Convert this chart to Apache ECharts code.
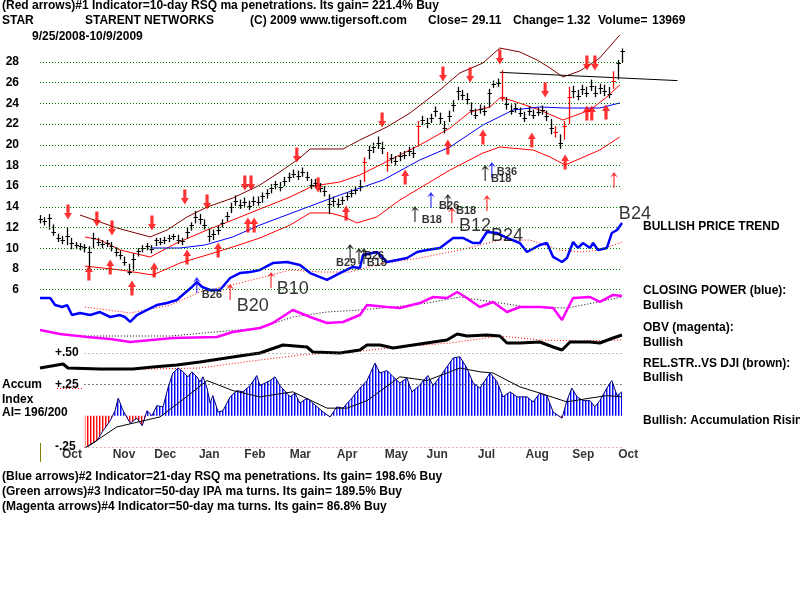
<!DOCTYPE html>
<html><head><meta charset="utf-8">
<script src="https://cdn.jsdelivr.net/npm/echarts@6/dist/echarts.min.js"></script>
<style>html,body{margin:0;padding:0;background:#fff}#c{width:800px;height:600px}</style>
</head><body><div id="c"></div>
<script>
// ---------- DATA (bar index k = every 2 trading days, 9/25/2008 .. 10/9/2009) ----------
const closes = [12.8,12.6,12.9,11.6,11.0,10.8,11.2,10.5,10.3,10.2, 10.1,9.6,11.0,10.6,10.4,10.5,10.2,9.6,9.3,8.7,
 7.7,9.0,9.7,10.0,10.2,9.9,10.8,10.6,10.8,11.0, 11.2,10.8,10.7,11.6,12.2,13.0,12.8,12.2,11.2,11.4,
 11.8,12.4,13.1,14.0,14.6,14.2,14.5,14.1,14.6,14.5, 15.0,15.3,15.8,16.2,15.9,16.5,16.9,17.2,17.0,17.4,
 16.9,16.1,16.3,15.8,15.5,14.3,14.6,14.3,14.7,15.0, 15.3,15.6,16.0,18.3,19.5,19.8,20.2,19.7,18.0,18.7,
 18.4,18.9,19.0,19.4,19.2,21.8,22.4,22.1,22.6,23.3, 22.6,21.6,22.8,23.8,25.2,24.8,24.4,23.4,22.9,23.5,
 23.3,25.0,25.9,26.0,24.6,23.9,23.3,23.6,23.1,22.6, 23.3,22.9,23.2,23.4,22.8,21.6,21.2,20.2,21.8,24.6,
 25.2,24.7,25.4,25.0,25.7,25.0,25.5,25.2,24.9,26.2, 27.9,29.1];
const highs = [13.2,13.0,13.3,12.3,11.4,11.2,12.0,11.0,10.6,10.5, 10.4,10.2,11.5,11.0,10.8,10.8,10.6,10.1,9.8,9.2,
 8.5,9.5,10.0,10.3,10.5,10.3,11.0,11.0,11.1,11.3, 11.4,11.3,11.0,12.0,12.5,13.6,13.3,12.8,11.9,11.8,
 12.2,12.8,13.5,14.4,15.1,14.7,14.9,14.6,15.0,15.0, 15.4,15.7,16.2,16.5,16.4,16.9,17.3,17.6,17.5,17.8,
 17.4,16.7,16.7,16.3,16.0,15.2,15.0,14.8,15.0,15.4, 15.7,16.0,16.6,18.8,19.9,20.2,20.8,20.3,19.3,19.1,
 18.9,19.3,19.4,19.8,19.8,22.3,22.8,22.6,23.0,23.7, 23.1,22.3,23.3,24.3,25.6,25.3,25.0,24.1,23.5,23.9,
 23.8,25.4,26.2,26.4,27.2,24.6,23.9,24.0,23.6,23.2, 23.7,23.4,23.6,23.8,23.3,22.5,21.8,21.0,22.3,25.6,
 25.7,25.3,25.8,25.6,26.3,25.7,25.9,25.8,25.6,27.1, 28.2,29.3];
const lows = [12.4,12.2,11.8,11.2,10.6,10.4,10.3,9.9,9.9,9.8, 9.6,8.0,10.0,10.2,10.0,10.1,9.7,9.2,8.9,8.3,
 7.4,7.8,9.2,9.6,9.8,9.5,10.2,10.3,10.4,10.6, 10.8,10.4,10.3,10.9,11.7,12.4,12.3,11.8,10.6,10.8,
 11.3,12.0,12.6,13.4,14.1,13.8,14.0,13.7,14.1,14.1, 14.4,14.8,15.3,15.7,15.5,16.0,16.4,16.8,16.6,16.9,
 16.5,15.7,15.8,15.4,15.0,13.3,14.0,13.9,14.2,14.6, 14.9,15.2,15.5,16.4,18.6,19.2,19.6,19.1,17.4,18.2,
 18.0,18.4,18.6,18.9,18.7,19.8,21.9,21.6,22.1,22.7, 22.0,21.1,22.2,23.2,24.3,24.3,23.9,22.9,22.5,23.0,
 22.8,23.6,25.5,25.6,24.2,23.4,22.9,23.1,22.7,22.2, 22.8,22.5,22.8,22.9,22.3,21.0,20.7,19.6,20.5,22.0,
 24.5,24.3,24.8,24.6,25.2,24.6,24.9,24.7,24.5,25.4, 26.3,27.9];
const redBars = [73, 78, 85, 104, 116, 118, 119, 129];
const priceTicks = [6,8,10,12,14,16,18,20,22,24,26,28];

const maroonBand = [[9.0,13.21],[17.3,11.96],[24.8,11.09],[28.6,11.76],[33.1,13.02],[37.6,13.98],[43.4,14.85],[49.5,16.11],[54.0,17.37],[58.5,18.72],[60.8,19.59],[68.2,19.59],[72.0,20.46],[78.1,21.72],[83.3,23.07],[90.0,25.29],[94.5,26.94],[99.7,27.90],[103.5,29.35],[108.0,28.97],[111.9,28.19],[114.8,27.42],[117.7,26.55],[121.5,27.13],[126.0,28.39],[130.5,30.61]];
const redUpperBand = [[10.1,11.09],[13.5,10.80],[18.0,9.83],[24.8,9.15],[30.8,10.51],[37.6,11.76],[43.4,12.73],[49.5,13.79],[56.3,14.95],[61.4,16.01],[67.5,16.40],[72.0,17.08],[76.5,18.04],[85.5,19.98],[92.3,21.62],[96.8,23.17],[101.3,23.65],[103.5,24.52],[105.8,24.33],[112.5,23.36],[117.7,22.39],[123.8,23.36],[127.6,24.62],[130.5,25.78]];
const redLowerBand = [[10.1,8.28],[18.0,7.90],[25.4,7.41],[31.5,8.57],[37.6,9.35],[43.4,10.12],[49.5,10.99],[56.3,12.24],[60.8,13.41],[65.3,13.41],[68.6,13.02],[71.3,12.44],[75.8,13.02],[81.0,14.66],[88.5,16.59],[92.3,17.56],[99.7,19.20],[103.5,19.78],[111.0,19.49],[114.8,18.82],[118.2,18.04],[126.0,19.49],[130.5,20.75]];
const blueMA = [[24.8,10.02],[31.5,10.02],[37.1,10.31],[43.4,11.09],[49.5,12.24],[58.5,13.70],[67.5,15.14],[77.2,16.59],[85.5,18.53],[92.3,19.78],[99.7,21.91],[106.5,23.36],[112.5,23.65],[118.2,23.55],[126.0,23.55],[130.5,24.04]];
const resistance = [[103.5,27.0],[143.5,26.2]];

const downArrows = [[6.3,13.50],[12.8,12.83],[16.2,11.96],[25.2,12.44],[32.6,14.95],[37.6,14.47],[46.1,16.30],[47.5,16.30],[57.8,19.01],[62.6,16.11],[77.0,22.39],[90.7,26.84],[96.8,26.74],[103.5,28.48],[113.7,25.29],[123.1,27.90],[124.9,27.90]];
const upArrows = [[11.0,7.61],[15.8,8.19],[20.7,6.16],[25.7,7.90],[33.1,9.15],[40.1,9.83],[46.8,12.25],[48.2,12.25],[68.9,13.41],[82.2,16.88],[91.8,19.78],[99.7,20.75],[110.7,20.46],[118.2,18.33],[123.1,23.07],[124.2,23.07],[127.4,23.17]];
const thinArrowsBlack = [[69.8,9.64],[71.8,9.25],[72.9,9.25],[84.4,13.31],[91.8,14.47],[100.2,17.27]];
const thinArrowsBlue = [[35.3,6.45],[88.0,14.66],[101.7,17.56]];
const thinArrowsRed = [[42.8,5.77],[52.0,6.93],[92.7,13.21],[100.6,14.37],[129.2,16.59]];
const smallLabels = [[38.7,5.48,'B26'],[68.9,8.57,'B29'],[75.2,9.25,'B26'],[75.8,8.57,'B18'],[88.2,12.73,'B18'],[92.1,14.08,'B26'],[95.9,13.60,'B18'],[103.8,16.69,'B18'],[105.1,17.37,'B36']];
const bigLabels = [[47.9,4.42,'B20'],[56.9,6.06,'B10'],[97.9,12.15,'B12'],[105.1,11.18,'B24'],[133.9,13.31,'B24']];

const rsq = [[0,24.6],[2.3,24.6],[3.4,19.2],[5.0,17.7],[6.1,19.2],[7.2,11.5],[9.0,13.1],[11.3,11.5],[13.5,13.8],[15.8,10.0],[18.0,11.5],[19.1,10.0],[20.3,6.2],[21.8,11.5],[24.1,15.4],[26.3,19.2],[28.6,20.8],[30.8,23.1],[32.6,28.5],[34.2,33.1],[35.3,36.9],[36.5,33.1],[38.3,30.8],[40.5,30.8],[42.8,40.0],[45.0,43.8],[47.3,44.6],[49.5,46.2],[52.4,51.5],[55.6,52.3],[58.5,50.0],[60.8,43.8],[64.6,38.5],[67.5,43.8],[70.4,48.5],[72.0,47.7],[72.7,57.7],[75.9,60.0],[78.1,52.3],[80.4,53.8],[82.6,55.4],[84.9,60.0],[87.1,61.5],[90.0,63.1],[93.0,70.8],[95.2,70.8],[97.5,66.9],[99.0,66.9],[100.6,75.4],[102.9,74.6],[105.1,70.8],[108.0,66.9],[109.6,60.0],[112.5,65.4],[114.1,66.9],[115.5,56.2],[117.5,52.3],[118.6,55.4],[120.0,67.7],[121.1,63.1],[122.2,66.9],[123.8,63.1],[124.5,66.9],[125.6,61.5],[127.6,63.1],[128.7,74.6],[129.9,76.9],[131.0,82.3]];
const rsqMA = [[10.1,17.7],[20.3,13.1],[29.3,19.2],[36.0,29.2],[45.0,36.2],[49.5,40.0],[56.3,46.2],[63.0,44.6],[69.8,44.6],[76.5,50.8],[85.5,55.4],[94.5,61.5],[103.5,69.2],[110.3,69.2],[117.0,61.5],[121.5,60.0],[126.0,61.5],[131.0,67.7]];
const closingPower = [[0,28.6],[4.5,22.9],[10.6,18.6],[15.8,15.7],[20.3,11.4],[29.9,17.1],[39.8,18.6],[43.4,25.7],[49.5,31.4],[52.4,38.6],[56.9,57.1],[60.8,47.1],[64.6,38.6],[68.2,40.0],[72.0,50.0],[73.6,64.3],[78.1,61.4],[81.0,60.0],[85.5,67.1],[88.5,75.7],[91.6,74.3],[93.9,82.9],[96.1,74.3],[99.0,61.4],[102.0,68.6],[105.1,54.3],[108.0,61.4],[112.5,61.4],[115.5,60.0],[117.5,42.9],[118.6,57.1],[120.0,74.3],[123.8,75.7],[126.0,68.6],[129.0,78.6],[131.0,77.1]];
const closingPowerMA = [[10.1,20.0],[29.3,20.0],[49.5,31.4],[56.9,47.1],[64.6,54.3],[72.0,57.1],[79.5,61.4],[87.1,67.1],[94.5,75.7],[102.0,68.6],[109.6,61.4],[118.6,60.0],[124.5,67.1],[131.0,75.7]];
const obv = [[0,14],[5.2,22],[6.3,14],[13.5,12],[20.9,12],[25.4,16],[30.8,20],[36.0,26],[43.4,36],[49.5,44],[54.7,60],[60.1,56],[61.4,46],[67.5,44],[72.0,50],[73.6,60],[76.5,60],[79.5,54],[84.0,60],[88.5,66],[91.6,70],[93.9,82],[96.1,78],[100.6,80],[103.5,78],[105.1,64],[108.0,64],[112.5,66],[115.5,56],[117.5,50],[119.3,66],[123.8,66],[126.0,64],[129.0,74],[131.0,80]];
const obvMA = [[13.5,10],[36.0,14],[49.5,30],[58.5,40],[69.8,46],[81.0,56],[92.3,64],[103.5,78],[112.5,70],[121.5,68],[131.0,70]];
const accumIndex = [[10.1,-0.26],[12.8,-0.20],[14.2,-0.12],[15.8,-0.04],[16.9,0.04],[17.6,0.14],[18.7,0.04],[20.3,-0.06],[21.8,-0.02],[23.0,-0.08],[24.1,0.04],[25.2,0.00],[26.3,0.08],[27.7,0.07],[28.8,0.22],[29.9,0.34],[31.1,0.38],[32.2,0.35],[33.3,0.31],[34.2,0.35],[35.3,0.31],[36.0,0.27],[36.7,0.31],[37.6,0.22],[38.3,0.10],[38.9,0.16],[40.1,0.03],[41.2,0.04],[42.8,0.15],[44.3,0.20],[45.7,0.19],[47.3,0.24],[48.8,0.32],[49.5,0.24],[51.8,0.28],[52.9,0.31],[54.0,0.24],[56.3,0.15],[57.4,0.18],[58.5,0.10],[60.1,0.14],[61.4,0.10],[63.7,0.03],[65.3,-0.01],[66.8,0.07],[68.2,0.06],[70.2,0.14],[72.0,0.22],[73.6,0.28],[75.4,0.42],[76.5,0.34],[78.1,0.36],[79.5,0.31],[81.0,0.26],[82.6,0.30],[83.7,0.19],[85.1,0.23],[87.3,0.32],[88.5,0.24],[90.0,0.31],[91.6,0.39],[93.0,0.46],[94.5,0.47],[96.1,0.38],[97.5,0.26],[99.0,0.22],[101.3,0.34],[102.9,0.27],[104.2,0.15],[105.8,0.19],[107.4,0.15],[109.6,0.15],[111.0,0.11],[112.5,0.18],[114.1,0.16],[115.5,0.03],[117.5,-0.02],[118.6,0.12],[119.7,0.22],[120.9,0.15],[122.2,0.12],[123.8,0.12],[124.9,0.07],[126.0,0.12],[127.6,0.22],[128.7,0.28],[129.9,0.16],[131.0,0.19]];
const accumMA = [[10.1,-0.26],[17.3,-0.09],[27.0,-0.01],[32.6,0.14],[37.6,0.28],[43.4,0.20],[49.5,0.15],[56.9,0.19],[64.6,0.06],[69.1,0.06],[73.6,0.12],[81.0,0.31],[87.1,0.28],[94.5,0.38],[99.0,0.35],[102.0,0.34],[108.0,0.23],[112.5,0.18],[118.6,0.11],[123.8,0.14],[127.6,0.16],[131.0,0.15]];
const aiTickLabels = {'0.5':'+.50','0.25':'+.25','-0.25':'-.25'};
const monthNames = ['Oct','Nov','Dec','Jan','Feb','Mar','Apr','May','Jun','Jul','Aug','Sep','Oct'];
const monthPos = [7.2,18.9,28.2,38.1,48.4,58.6,69.1,80.2,89.4,100.5,111.9,122.3,132.4];

// ---------- CHART ----------
const FONT = '"Liberation Sans", Arial, sans-serif';
const GL = 40, GW = 145 * 582 / 131;
function xa(i){ return {gridIndex:i, type:'value', min:0, max:145, show:false}; }
function stripe(c1, c2){
  const cv = document.createElement('canvas'); cv.width = 3; cv.height = 4;
  const ctx = cv.getContext('2d');
  ctx.fillStyle = c1; ctx.fillRect(0,0,1,4);
  ctx.fillStyle = c2; ctx.fillRect(1,0,1,4);
  return {image: cv, repeat: 'repeat'};
}
const bluePat = stripe('#0000ff', '#8c8cff');
const redPat = stripe('#ff0000', '#ff9090');
const barData = closes.map((c, i) => [i, highs[i], lows[i], c]);
const upPath = 'path://M5,0 L10,7 L7,7 L7,16 L3,16 L3,7 L0,7 Z';
const thinPath = 'path://M4,0 L8,7 L4.6,4 L4.6,20 L3.4,20 L3.4,4 L0,7 Z';
const lineS = (name, data, xi, color, width, type, z) => ({
  name, type:'line', data, xAxisIndex:xi, yAxisIndex:xi, showSymbol:false, symbol:'none',
  lineStyle:{color, width, type: type || 'solid'}, z: z || 2, silent:true, animation:false
});
const thin = (data, color) => ({type:'scatter', data, xAxisIndex:0, yAxisIndex:0, symbol:thinPath, symbolSize:[8,16], itemStyle:{color}, z:6, silent:true, animation:false});
const lab = (data, size, weight) => ({type:'scatter', data, xAxisIndex:0, yAxisIndex:0, symbolSize:0, z:7, silent:true, animation:false,
  label:{show:true, position:'inside', formatter:p => p.data[2], color:'#000', fontFamily:FONT, fontSize:size, fontWeight:weight}});

const texts = [
  [2,7,'(Red arrows)#1 Indicator=10-day RSQ ma penetrations. Its gain= 221.4% Buy'],
  [2,22,'STAR'],[85,22,'STARENT NETWORKS'],[250,22,'(C) 2009 www.tigersoft.com'],
  [428,22,'Close='],[472,22,'29.11'],[513,22,'Change='],[567,22,'1.32'],[598,22,'Volume='],[652,22,'13969'],
  [32,38,'9/25/2008-10/9/2009'],
  [643,228,'BULLISH PRICE TREND'],
  [643,292,'CLOSING POWER (blue):'],[643,307,'Bullish'],
  [643,329,'OBV (magenta):'],[643,344,'Bullish'],
  [643,365,'REL.STR..VS DJI (brown):'],[643,379,'Bullish'],
  [643,422,'Bullish: Accumulation Rising'],
  [2,386,'Accum'],[2,401,'Index'],[2,414,'AI= 196/200'],
  [2,478,'(Blue arrows)#2 Indicator=21-day RSQ ma penetrations. Its gain= 198.6% Buy'],
  [2,493,'(Green arrows)#3 Indicator=50-day IPA ma turns. Its gain= 189.5% Buy'],
  [2,508,'(Magenta arrows)#4 Indicator=50-day ma turns. Its gain= 86.8% Buy']
];

const chart = echarts.init(document.getElementById('c'), null, {renderer:'canvas'});
chart.setOption({
  backgroundColor:'#ffffff',
  animation:false,
  grid:[
    {left:GL, width:GW, top:20.6, height:289.7},
    {left:GL, width:GW, top:200, height:130},
    {left:GL, width:GW, top:280, height:70},
    {left:GL, width:GW, top:325, height:50},
    {left:GL, width:GW, top:353, height:94}
  ],
  xAxis:[xa(0),xa(1),xa(2),xa(3),xa(4)],
  yAxis:[
    {gridIndex:0, type:'value', min:4, max:32, interval:2, axisLine:{show:false}, axisTick:{show:false}, splitLine:{show:false},
     axisLabel:{margin:21, color:'#000', fontFamily:FONT, fontSize:12, fontWeight:'bold', formatter:v => priceTicks.includes(v) ? String(v) : ''}},
    {gridIndex:1, type:'value', min:0, max:100, show:false},
    {gridIndex:2, type:'value', min:0, max:100, show:false},
    {gridIndex:3, type:'value', min:0, max:100, show:false},
    {gridIndex:4, type:'value', min:-0.25, max:0.5, interval:0.25, axisLine:{show:false}, axisTick:{show:false}, splitLine:{show:false},
     axisLabel:{inside:true, margin:15, color:'#000', fontFamily:FONT, fontSize:12, fontWeight:'bold', formatter:v => aiTickLabels[String(v)] || ''}}
  ],
  graphic: texts.map(t => ({type:'text', left:t[0], top:t[1]-7, silent:true,
      style:{text:t[2], fill:'#000', font:'bold 12px ' + FONT}})).concat([
      {type:'line', shape:{x1:40.5,y1:443,x2:40.5,y2:462}, style:{stroke:'#808000', lineWidth:1}},
      {type:'line', shape:{x1:57,y1:388.5,x2:82,y2:388.5}, style:{stroke:'#ff0000', lineWidth:1, lineDash:[1,2]}}
  ]),
  series:[
    Object.assign(lineS('maroon', maroonBand, 0, '#800000', 1), {
      markLine:{silent:true, symbol:'none', label:{show:false}, animation:false,
        lineStyle:{color:'#008000', width:1, type:[1,2]},
        data: priceTicks.map(v => [{coord:[0,v]},{coord:[131,v]}])}}),
    lineS('redUpper', redUpperBand, 0, '#ff0000', 1),
    lineS('redLower', redLowerBand, 0, '#ff0000', 1),
    lineS('blueMA', blueMA, 0, '#0000ff', 1),
    lineS('resistance', resistance, 0, '#000000', 1),
    {type:'custom', xAxisIndex:0, yAxisIndex:0, data:barData, z:4, silent:true, animation:false,
     encode:{x:0, y:[1,2,3]},
     renderItem:(params, api) => {
       const k = api.value(0);
       const hi = api.coord([k, api.value(1)]), lo = api.coord([k, api.value(2)]), cl = api.coord([k, api.value(3)]);
       const x = Math.round(hi[0]) + 0.5, cy = Math.round(cl[1]) + 0.5;
       const col = redBars.includes(params.dataIndex) ? '#ff0000' : '#000000';
       return {type:'group', children:[
         {type:'line', shape:{x1:x, y1:hi[1], x2:x, y2:lo[1]}, style:{stroke:col, lineWidth:1.3}},
         {type:'line', shape:{x1:x-2, y1:cy, x2:x+2.5, y2:cy}, style:{stroke:col, lineWidth:1}}
       ]};
     }},
    {type:'scatter', data:downArrows, xAxisIndex:0, yAxisIndex:0, symbol:upPath, symbolRotate:180, symbolSize:[8,15], itemStyle:{color:'#ff0000'}, z:6, silent:true, animation:false},
    {type:'scatter', data:upArrows, xAxisIndex:0, yAxisIndex:0, symbol:upPath, symbolSize:[8,15], itemStyle:{color:'#ff0000'}, z:6, silent:true, animation:false},
    thin(thinArrowsBlack, '#000000'),
    thin(thinArrowsBlue, '#0000ff'),
    thin(thinArrowsRed, '#ff0000'),
    lab(smallLabels, 11, 'bold'),
    lab(bigLabels, 18, 'normal'),
    lineS('rsqMA', rsqMA, 1, '#ff0000', 1, [1,2]),
    lineS('rsq', rsq, 1, '#0000ff', 2.5, 'solid', 3),
    lineS('cpMA', closingPowerMA, 2, '#000000', 1, [1,2]),
    lineS('cp', closingPower, 2, '#ff00ff', 2.5, 'solid', 3),
    lineS('obvMA', obvMA, 3, '#ff0000', 1, [1,2]),
    lineS('obv', obv, 3, '#000000', 3, 'solid', 3),
    {type:'custom', xAxisIndex:4, yAxisIndex:4, data:accumIndex, z:2, silent:true, animation:false,
     encode:{x:0, y:1},
     markLine:{silent:true, symbol:'none', label:{show:false}, animation:false,
       data:[
         [{coord:[10,0.5], lineStyle:{color:'#808080', type:[1,3], width:1}},{coord:[131,0.5]}],
         [{coord:[10,0.25], lineStyle:{color:'#000000', type:[1,3], width:1}},{coord:[131,0.25]}],
         [{coord:[10,-0.25], lineStyle:{color:'#c07070', type:[1,3], width:1}},{coord:[131,-0.25]}]
       ]},
     renderItem:(params, api) => {
       const i = params.dataIndex;
       if (i >= accumIndex.length - 1) return null;
       const [k1, v1] = accumIndex[i], [k2, v2] = accumIndex[i+1];
       const poly = (pts, neg) => ({type:'polygon', shape:{points: pts.map(p => api.coord(p))}, style:{fill: neg ? redPat : bluePat}});
       const ch = [];
       if ((v1 >= 0 && v2 >= 0) || (v1 <= 0 && v2 <= 0)) ch.push(poly([[k1,0],[k1,v1],[k2,v2],[k2,0]], v1 + v2 < 0));
       else {
         const kz = k1 + (k2 - k1) * v1 / (v1 - v2);
         ch.push(poly([[k1,0],[k1,v1],[kz,0]], v1 < 0));
         ch.push(poly([[kz,0],[k2,v2],[k2,0]], v2 < 0));
       }
       return {type:'group', children:ch};
     }},
    lineS('aiEdge', accumIndex, 4, '#000080', 1, 'solid', 3),
    lineS('aiMA', accumMA, 4, '#000000', 1, 'solid', 4),
    {type:'scatter', xAxisIndex:4, yAxisIndex:4, data: monthPos.map((p, i) => [p, -0.25, monthNames[i]]), symbolSize:0, silent:true, animation:false,
     label:{show:true, position:'bottom', distance:2, formatter:p => p.data[2], color:'#000', fontFamily:FONT, fontSize:12, fontWeight:'bold'}}
  ]
});
</script>
</body></html>
